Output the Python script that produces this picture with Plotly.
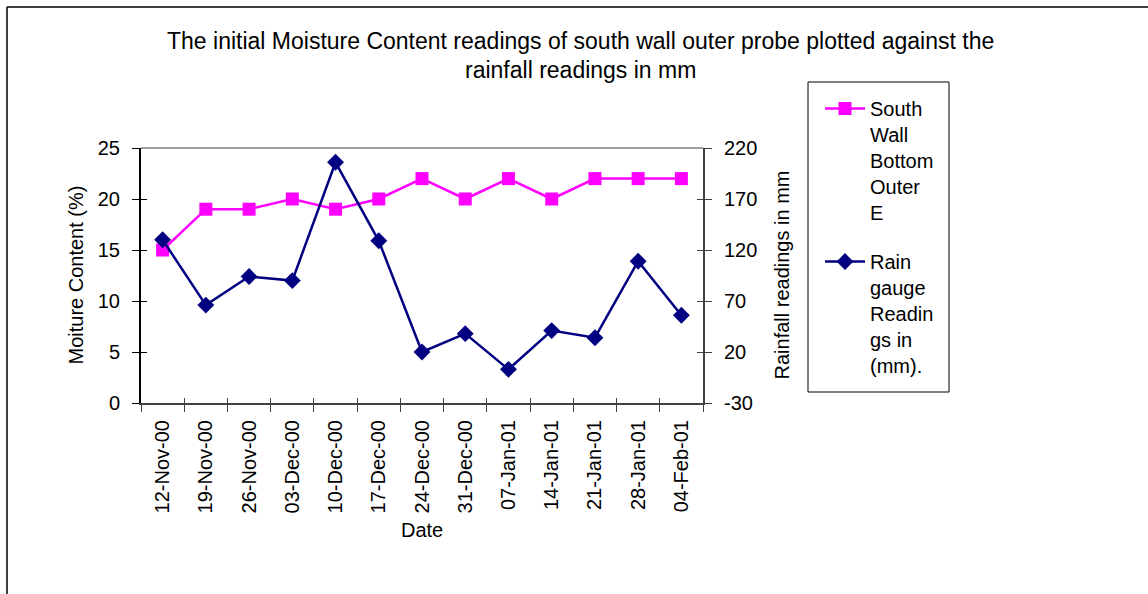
import plotly.graph_objects as go

dates = ["12-Nov-00", "19-Nov-00", "26-Nov-00", "03-Dec-00", "10-Dec-00", "17-Dec-00",
         "24-Dec-00", "31-Dec-00", "07-Jan-01", "14-Jan-01", "21-Jan-01", "28-Jan-01", "04-Feb-01"]
moisture = [15, 19, 19, 20, 19, 20, 22, 20, 22, 20, 22, 22, 22]
rainfall = [130, 66, 94, 90, 206, 129, 20, 38, 3, 41, 34, 109, 56]

left_ticks = [0, 5, 10, 15, 20, 25]
right_ticks = [-30, 20, 70, 120, 170, 220]
right_labels = [str(v) for v in right_ticks]

W, H = 1148, 594
# plot area in page coordinates
L, R, T, B = 141, 703, 148, 403
pw, ph = R - L, B - T

def px(x):
    return (x - L) / pw

def py(y):
    return (B - y) / ph

FONT = "Liberation Sans, Arial, sans-serif"

fig = go.Figure()
fig.add_trace(go.Scatter(
    x=dates, y=moisture, name="South<br>Wall<br>Bottom<br>Outer<br>E",
    mode="lines+markers", line=dict(color="#FF00FF", width=2.5),
    marker=dict(symbol="square", size=13, color="#FF00FF"),
    legendgroup="a", yaxis="y"))
fig.add_trace(go.Scatter(
    x=dates, y=rainfall, name="Rain<br>gauge<br>Readin<br>gs in<br>(mm).",
    mode="lines+markers", line=dict(color="#000080", width=2.5),
    marker=dict(symbol="diamond", size=13, color="#000080"),
    legendgroup="b", yaxis="y2"))
# helper traces to draw inner halves of cross ticks
fig.add_trace(go.Scatter(x=[None], y=[None], xaxis="x2", yaxis="y3", showlegend=False, hoverinfo="skip"))
fig.add_trace(go.Scatter(x=[None], y=[None], xaxis="x2", yaxis="y4", showlegend=False, hoverinfo="skip"))

tickfont = dict(family=FONT, size=20, color="black")

fig.update_layout(
    width=W, height=H,
    margin=dict(l=L, r=W - R, t=T, b=H - B, autoexpand=False),
    paper_bgcolor="white", plot_bgcolor="white",
    font=dict(family=FONT, color="black"),
    xaxis=dict(type="category", categoryorder="array", categoryarray=dates,
               range=[-0.5, len(dates) - 0.5], tickson="boundaries",
               ticks="outside", ticklen=7, tickcolor="#404040", tickwidth=1,
               showline=True, linecolor="#404040", linewidth=2,
               tickangle=-90, tickfont=tickfont, showgrid=False, zeroline=False,
               automargin=False, ticklabelstandoff=7),
    xaxis2=dict(type="category", categoryorder="array", categoryarray=dates,
                range=[-0.5, len(dates) - 0.5], tickson="boundaries", overlaying="x",
                ticks="inside", ticklen=5, tickcolor="#404040", showticklabels=False,
                showgrid=False, zeroline=False, showline=False, automargin=False),
    yaxis=dict(range=[0, 25], tickvals=left_ticks, ticks="outside", ticklen=7,
               tickcolor="black", showline=True, linecolor="black", linewidth=2,
               tickfont=tickfont, showgrid=False, zeroline=False, automargin=False,
               ticklabelstandoff=8),
    yaxis2=dict(range=[-30, 220], tickvals=right_ticks, ticktext=right_labels,
                overlaying="y", side="right",
                ticks="outside", ticklen=7, tickcolor="#404040", showline=True,
                linecolor="#404040", linewidth=2, tickfont=tickfont, showgrid=False,
                zeroline=False, automargin=False, ticklabelstandoff=8),
    yaxis3=dict(range=[0, 25], tickvals=left_ticks, overlaying="y", side="left",
                ticks="inside", ticklen=6, tickcolor="black", showticklabels=False,
                showgrid=False, zeroline=False, showline=False, automargin=False),
    yaxis4=dict(range=[-30, 220], tickvals=right_ticks, overlaying="y", side="right",
                ticks="inside", ticklen=6, tickcolor="#404040", showticklabels=False,
                showgrid=False, zeroline=False, showline=False, automargin=False),
    legend=dict(x=px(820), y=py(89), xanchor="left", yanchor="top",
                font=dict(family=FONT, size=20, color="black"),
                valign="top", tracegroupgap=20, bgcolor="rgba(0,0,0,0)",
                borderwidth=0, itemwidth=40, maxheight=500),
    showlegend=True,
)

shapes = [
    # outer frame (left and top edges)
    dict(type="line", xref="paper", yref="paper", x0=px(7), x1=px(7), y0=py(H + 5), y1=py(7),
         line=dict(color="black", width=1.5)),
    dict(type="line", xref="paper", yref="paper", x0=px(7), x1=px(W + 5), y0=py(7), y1=py(7),
         line=dict(color="black", width=1.5)),
    # plot area top edge
    dict(type="line", xref="paper", yref="paper", x0=0, x1=1, y0=1, y1=1,
         line=dict(color="#808080", width=1.5)),
    # legend box
    dict(type="rect", xref="paper", yref="paper", x0=px(808), x1=px(949), y0=py(392), y1=py(82),
         line=dict(color="black", width=1)),
]
fig.update_layout(shapes=shapes)

title_font = dict(family=FONT, size=23, color="black")
label_font = dict(family=FONT, size=20, color="black")
annotations = [
    dict(text="The initial Moisture Content readings of south wall outer probe plotted against the",
         x=px(580), y=py(41), xref="paper", yref="paper", showarrow=False, font=title_font,
         xanchor="center", yanchor="middle"),
    dict(text="rainfall readings in mm",
         x=px(580), y=py(70), xref="paper", yref="paper", showarrow=False, font=title_font,
         xanchor="center", yanchor="middle"),
    dict(text="Moiture Content (%)", x=px(75), y=0.5, xref="paper", yref="paper",
         textangle=-90, showarrow=False, font=label_font,
         xanchor="center", yanchor="middle"),
    dict(text="Rainfall readings in mm", x=px(781), y=0.5, xref="paper", yref="paper",
         textangle=-90, showarrow=False, font=label_font,
         xanchor="center", yanchor="middle"),
    dict(text="Date", x=px(422), y=py(530), xref="paper", yref="paper",
         showarrow=False, font=label_font,
         xanchor="center", yanchor="middle"),
]
fig.update_layout(annotations=annotations)

fig.write_html("out.html", config={"displayModeBar": False},
               post_script="document.body.style.margin='0';document.body.style.overflow='hidden';")
